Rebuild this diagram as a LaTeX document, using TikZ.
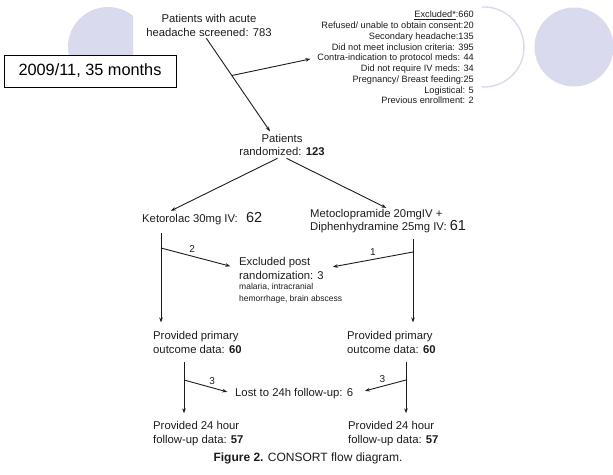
\documentclass[tikz,border=0pt]{standalone}
\usepackage{fontspec}
\setmainfont{Liberation Sans}
\usetikzlibrary{arrows.meta,calc}
\definecolor{lilac}{RGB}{218,218,238}
\definecolor{scanink}{RGB}{28,28,28}
\begin{document}
\begin{tikzpicture}[x=1pt,y=-1pt,
  txt/.style={font=\fontsize{11.3}{13.5}\selectfont, text=scanink, inner sep=0pt, align=left},
  small/.style={font=\fontsize{8.5}{12}\selectfont, text=scanink, inner sep=0pt, align=left},
  num/.style={font=\fontsize{10}{12}\selectfont, text=scanink, inner sep=0pt},
  arr/.style={draw=scanink, line width=0.9pt, -{Stealth[length=5pt,width=3.6pt]}}]%
\useasboundingbox (0.000000, 0.000000) rectangle (613.000000, 474.000000);%
\begin{scope}\clip (0.000000, 0.000000) rectangle (133.000000, 55.000000);%
\fill[lilac] (108.000000, 47.000000) circle (40.000000);%
\end{scope}%
\draw[lilac, line width=1.4pt] (484.000000, 47.000000) ++(93:40.000000) arc[start angle=93, end angle=-93, radius=40.000000];%
\fill[lilac] (574.000000, 47.000000) circle (39.500000);%
\node[draw=black, fill=white, line width=0.9pt, minimum width=172pt, minimum height=32pt, inner sep=0pt, font=\fontsize{16.3}{18}\selectfont] (period) at (90.000000, 71.000000) {2009/11, 35 months};%
\node[txt, align=center] (screen) at (209.000000, 25.500000) {Patients with acute\\headache screened: 783};%
\node[font=\fontsize{9.2}{10.75}\selectfont, text=scanink, inner sep=0pt, align=right, anchor=east] (excl) at (474.000000, 57.500000) {\underline{Excluded*}:660\\Refused/ unable to obtain consent:20\\Secondary headache:135\\Did not meet inclusion criteria: 395\\Contra-indication to protocol meds: 44\\Did not require IV meds: 34\\Pregnancy/ Breast feeding:25\\Logistical: 5\\Previous enrollment: 2};%
\node[txt, align=center] (rand) at (282.000000, 145.000000) {Patients\\randomized: \textbf{123}};%
\node[txt, anchor=west] (keto) at (142.000000, 219.000000) {Ketorolac 30mg IV:\hspace{5pt} {\fontsize{14.5}{16}\selectfont 62}};%
\node[txt, anchor=west] (meto) at (310.000000, 221.000000) {Metoclopramide 20mgIV +\\Diphenhydramine 25mg IV: {\fontsize{14.5}{16}\selectfont 61}};%
\node[txt, anchor=west] (expost) at (239.000000, 268.500000) {Excluded post\\randomization: 3};%
\node[small, anchor=north west] (expostwhy) at (239.000000, 283.500000) {malaria, intracranial\\hemorrhage, brain abscess};%
\node[txt, anchor=west] (lprim) at (153.000000, 342.500000) {Provided primary\\outcome data: \textbf{60}};%
\node[txt, anchor=west] (rprim) at (347.000000, 342.500000) {Provided primary\\outcome data: \textbf{60}};%
\node[txt, anchor=west] (lost) at (235.000000, 394.000000) {Lost to 24h follow-up: 6};%
\node[txt, anchor=west] (lfu) at (153.000000, 433.500000) {Provided 24 hour\\follow-up data: \textbf{57}};%
\node[txt, anchor=west] (rfu) at (348.000000, 433.500000) {Provided 24 hour\\follow-up data: \textbf{57}};%
\node[font=\fontsize{12}{14}\selectfont, text=scanink, inner sep=0pt] (caption) at (308.000000, 458.000000) {\textbf{Figure 2.} CONSORT flow diagram.};%
\coordinate (stail) at ($(screen.south west)!0.47!(screen.south east)$);%
\coordinate (shead) at ($(rand.north west)!0.38!(rand.north east)$);%
\coordinate (sjoin) at ($(stail)!0.4!(shead)$);%
\draw[arr, shorten <=2pt, shorten >=3pt] (stail) -- (shead);%
\draw[arr, shorten >=7pt] (sjoin) -- (excl.west);%
\draw[arr, shorten <=5pt, shorten >=4pt] (rand.south) -- ($(keto.north west)!0.21!(keto.north east)$);%
\draw[arr, shorten <=5pt, shorten >=2pt] (rand.south) -- (meto.north);%
\coordinate (ktop) at (161.000000, 233.000000);%
\coordinate (kjoin) at (161.000000, 248.000000);%
\coordinate (mtop) at (413.000000, 239.000000);%
\coordinate (mjoin) at (413.000000, 252.000000);%
\draw[arr, shorten >=9pt] (ktop) -- (ktop |- lprim.north);%
\draw[arr, shorten >=9pt] (mtop) -- (mtop |- rprim.north);%
\draw[arr, shorten >=9pt] (kjoin) -- node[num, pos=0.4, above=3pt] {2} (expost.west);%
\draw[arr, shorten >=9pt] (mjoin) -- node[num, pos=0.45, above=3pt] {1} (expost.east);%
\coordinate (ltop) at (184.000000, 362.000000);%
\coordinate (ljoin) at (184.000000, 380.000000);%
\coordinate (rtop) at (406.000000, 362.000000);%
\coordinate (rjoin) at (406.000000, 380.000000);%
\draw[arr, shorten >=8pt] (ltop) -- (ltop |- lfu.north);%
\draw[arr, shorten >=8pt] (rtop) -- (rtop |- rfu.north);%
\draw[arr, shorten >=8pt] (ljoin) -- node[num, pos=0.55, above=3pt] {3} (lost.west);%
\draw[arr, shorten >=12pt] (rjoin) -- node[num, pos=0.45, above=3pt] {3} (lost.east);%
\end{tikzpicture}%
\end{document}
